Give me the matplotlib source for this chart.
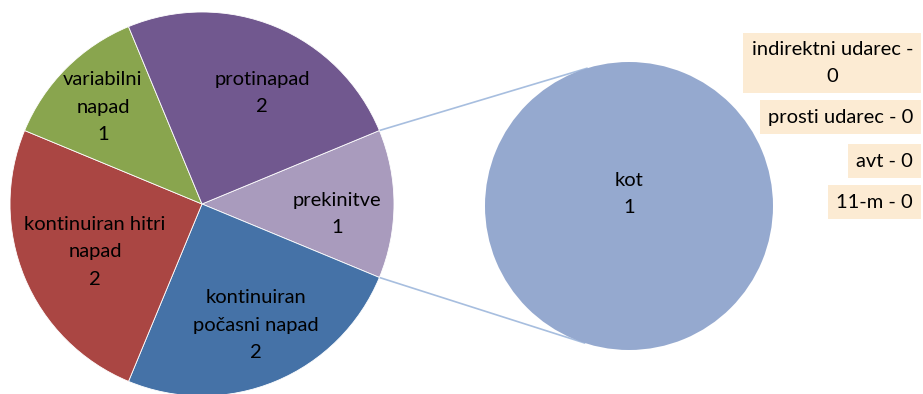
import matplotlib
matplotlib.use("Agg")
import matplotlib.pyplot as plt
import numpy as np

main_labels = ["prekinitve", "kontinuiran\npočasni napad", "kontinuiran hitri\nnapad", "variabilni\nnapad", "protinapad"]
main_values = [1, 2, 2, 1, 2]
main_colors = ["#A99BBD", "#4572A7", "#AA4643", "#89A54E", "#71588F"]

sec_labels = ["kot", "indirektni udarec", "prosti udarec", "avt", "11-m"]
sec_values = [1, 0, 0, 0, 0]
sec_color = "#95A9CF"

W, H = 923, 394
fig = plt.figure(figsize=(W / 100, H / 100), dpi=100)
ax = fig.add_axes([0, 0, 1, 1])

font = dict(family="Lato", fontsize=14.5, color="black")
LS = 1.75

def py(y):
    return H - y

# main pie
c1 = (202, py(204)); r1 = 192
tot = sum(main_values)
ax.pie(main_values, colors=main_colors, center=c1, radius=r1, startangle=180 * main_values[0] / tot,
       counterclock=False, wedgeprops=dict(edgecolor="white", linewidth=0.6), frame=True)

# secondary pie (only non-zero share drawn)
c2 = (629, py(206)); r2 = 144
ax.pie([v for v in sec_values if v > 0], colors=[sec_color], center=c2, radius=r2, startangle=90,
       wedgeprops=dict(edgecolor="none"), frame=True)
ax.set_xlim(0, W)
ax.set_ylim(0, H)
ax.set_aspect("equal")
ax.axis("off")

# connector lines
half = np.pi * main_values[0] / tot
for s, a2 in [(1, 107), (-1, -108)]:
    p1 = (c1[0] + r1 * np.cos(half), c1[1] + s * r1 * np.sin(half))
    p2 = (c2[0] + r2 * np.cos(np.radians(a2)), c2[1] + r2 * np.sin(np.radians(a2)))
    ax.plot([p1[0], p2[0]], [p1[1], p2[1]], color="#A7BEDF", lw=1.2, zorder=0.5)

# main labels
main_pos = [(337, 214), (256, 325), (95, 252), (103, 107), (262, 93)]
for lab, v, (x, y) in zip(main_labels, main_values, main_pos):
    ax.text(x, py(y), f"{lab}\n{v}", ha="center", va="center", linespacing=LS, **font)

# secondary labels
ax.text(629, py(194), f"{sec_labels[0]}\n{sec_values[0]}", ha="center", va="center", linespacing=LS, **font)
zero_pos = [(913, 63), (913, 117), (913, 161), (913, 202)]
texts = [f"{sec_labels[1]} -\n{sec_values[1]}"] + [f"{l} - {v}" for l, v in zip(sec_labels[2:], sec_values[2:])]
for t, (x, y) in zip(texts, zero_pos):
    ax.text(x, py(y), t, ha="right", va="center", multialignment="center", linespacing=LS,
            bbox=dict(boxstyle="square,pad=0.4", facecolor="#FCEBD3", edgecolor="none"), **font)

fig.savefig("out.png", dpi=100)
